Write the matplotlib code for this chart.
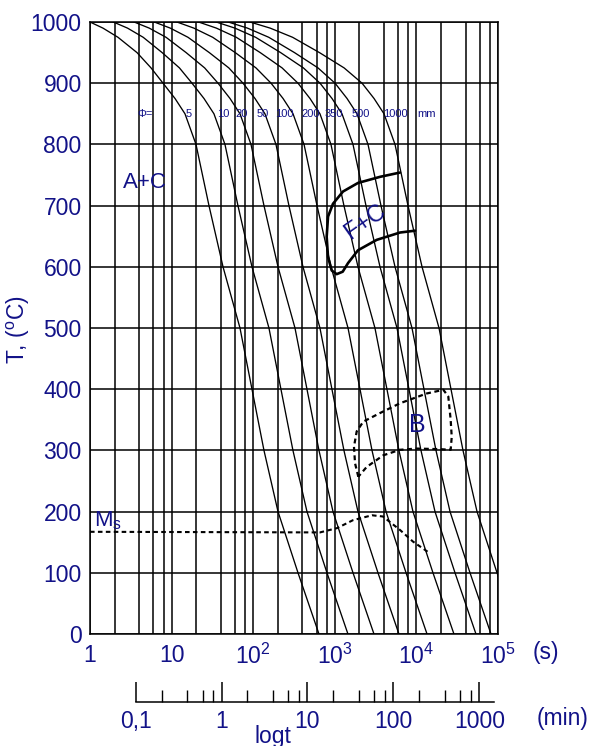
import matplotlib as mpl
import matplotlib.pyplot as plt
import numpy as np
from matplotlib.ticker import FixedLocator, NullFormatter

mpl.rcParams['font.family'] = ['Liberation Sans', 'DejaVu Sans']
mpl.rcParams['mathtext.fontset'] = 'custom'
mpl.rcParams['mathtext.rm'] = 'Liberation Sans'
mpl.rcParams['mathtext.it'] = 'Liberation Sans'

NAVY = '#121288'

# cooling curves: log10(t / s) at each temperature level, one list per bar diameter
T_levels = [1000, 990, 975, 950, 925, 900, 875, 850, 800, 700, 600, 500, 400, 300, 200, 100, 0]
lg_5 = [0, 0.159, 0.343, 0.576, 0.748, 0.895, 1.042, 1.164, 1.299, 1.458, 1.630, 1.838, 1.985, 2.132, 2.304, 2.549, 2.806]
lg_10 = [0.286, 0.460, 0.652, 0.884, 1.096, 1.250, 1.397, 1.519, 1.654, 1.813, 1.985, 2.193, 2.340, 2.487, 2.659, 2.904, 3.161]
lg_20 = [0.541, 0.726, 0.932, 1.178, 1.405, 1.569, 1.716, 1.838, 1.973, 2.132, 2.304, 2.512, 2.659, 2.806, 2.978, 3.223, 3.480]
lg_50 = [0.788, 0.984, 1.201, 1.462, 1.701, 1.875, 2.022, 2.144, 2.279, 2.438, 2.610, 2.818, 2.965, 3.112, 3.284, 3.529, 3.786]
lg_100 = [1.065, 1.273, 1.504, 1.780, 2.034, 2.219, 2.366, 2.488, 2.623, 2.782, 2.954, 3.162, 3.309, 3.456, 3.628, 3.873, 4.130]
lg_200 = [1.330, 1.549, 1.793, 2.086, 2.354, 2.549, 2.696, 2.818, 2.953, 3.112, 3.284, 3.492, 3.639, 3.786, 3.958, 4.203, 4.460]
lg_350 = [1.547, 1.776, 2.030, 2.336, 2.615, 2.819, 2.966, 3.088, 3.223, 3.382, 3.554, 3.762, 3.909, 4.056, 4.228, 4.473, 4.730]
lg_500 = [1.694, 1.930, 2.191, 2.506, 2.794, 3.003, 3.150, 3.272, 3.407, 3.566, 3.738, 3.946, 4.093, 4.240, 4.412, 4.657, 4.914]
lg_1000 = [1.961, 2.208, 2.483, 2.812, 3.114, 3.334, 3.481, 3.603, 3.738, 3.897, 4.069, 4.277, 4.424, 4.571, 4.743, 4.988, 5.245]
cooling = [lg_5, lg_10, lg_20, lg_50, lg_100, lg_200, lg_350, lg_500, lg_1000]

phi_labels = ['Φ=', '5', '10', '20', '50', '100', '200', '350', '500', '1000', 'mm']
phi_t = [4.72, 16.0, 43, 72.3, 131, 238, 511, 959, 2095, 5470, 13370]

# ferrite + carbide field
fc_t = [6295, 3583, 1923, 1260, 950, 826, 795, 826, 916, 1055, 1250, 1452, 1923, 3260, 6295, 9610]
fc_T = [754, 747, 737, 723, 703, 682, 649, 616, 594, 588, 592, 606, 627, 644, 656, 659]

# bainite field
b_t = [1941, 1770, 1718, 1855, 2233, 3580, 6295, 13370, 21400, 24600, 26300, 27100,
       26300, 19450, 10090, 6295, 3930, 2460, 1941]
b_T = [257, 279, 306, 331, 347, 361, 377, 393, 399, 388, 350, 322,
       301, 302, 303, 301, 292, 273, 257]

# martensite start
ms_t = [1, 659, 1064, 1671, 2858, 3890, 6295, 9080, 13870]
ms_T = [167, 166, 173, 186, 194, 192, 170, 151, 134]

sec_ticks = [1, 10, 100, 1000, 10000, 100000]
sec_labels = ['1', '10', '$10^2$', '$10^3$', '$10^4$', '$10^5$']
min_ticks = [0.1, 1, 10, 100, 1000]
min_labels = ['0,1', '1', '10', '100', '1000']

fig = plt.figure(figsize=(5.94, 7.46), dpi=100)
ax = fig.add_axes([90 / 594, 1 - 634 / 746, 408 / 594, 612 / 746])
ax.set_xscale('log')
ax.set_xlim(1, 1e5)
ax.set_ylim(0, 1000)

grid_x = [k * 10.0 ** n for n in range(5) for k in (2, 4, 6, 8)]
ax.xaxis.set_major_locator(FixedLocator(sec_ticks))
ax.xaxis.set_minor_locator(FixedLocator(grid_x))
ax.xaxis.set_minor_formatter(NullFormatter())
ax.set_xticklabels(sec_labels)
ax.set_yticks(range(0, 1001, 100))
ax.grid(True, which='both', color='black', lw=1.1)
ax.tick_params(which='both', length=0, labelsize=16.5, labelcolor=NAVY)
ax.tick_params(axis='x', pad=7)
ax.tick_params(axis='y', pad=6)
for s in ax.spines.values():
    s.set_linewidth(1.1)

for lg in cooling:
    ax.plot(10 ** np.array(lg), T_levels, color='black', lw=0.95)

for lab, t in zip(phi_labels, phi_t):
    ax.text(t, 850, lab, fontsize=8, color=NAVY, ha='center', va='center')

ax.plot(fc_t, fc_T, color='black', lw=1.9, solid_capstyle='round')
ax.plot(b_t, b_T, color='black', lw=1.6, ls=(0, (2.2, 1.6)))
ax.plot(ms_t, ms_T, color='black', lw=1.5, ls=(0, (2.2, 1.6)))

ax.text(4.72, 737, 'A+C', fontsize=16, color=NAVY, ha='center', va='center')
ax.text(2345, 673, 'F+C', fontsize=17, color=NAVY, ha='center', va='center', rotation=35)
ax.text(10170, 341, 'B', fontsize=18, color=NAVY, ha='center', va='center')
ax.text(1.12, 185, 'M$_\\mathregular{s}$', fontsize=16, color=NAVY, ha='left', va='center')

ax.set_ylabel('T, ($^\\mathregular{o}$C)', fontsize=16.5, color=NAVY)
ax.yaxis.set_label_coords(-0.142, 0.497)
fig.text(546 / 594, 1 - 652 / 746, '(s)', fontsize=16.5, color=NAVY, ha='center', va='center')

# time scale in minutes
ax2 = fig.add_axes([135.7 / 594, 1 - 701.7 / 746, (494 - 135.7) / 594, 0.03])
ax2.set_xscale('log')
ax2.set_xlim(0.1, 1483)
ax2.set_ylim(0, 1)
for name in ('top', 'left', 'right'):
    ax2.spines[name].set_visible(False)
ax2.spines['bottom'].set_linewidth(1.1)
ax2.set_yticks([])
ax2.xaxis.set_major_locator(FixedLocator(min_ticks))
ax2.xaxis.set_minor_locator(FixedLocator([k * 10.0 ** n for n in range(-1, 3) for k in (2, 4, 6, 8)]))
ax2.xaxis.set_minor_formatter(NullFormatter())
ax2.set_xticklabels(min_labels)
ax2.tick_params(which='major', direction='in', length=14.5, width=1.1, labelsize=16.5,
                labelcolor=NAVY, pad=6)
ax2.tick_params(which='minor', direction='in', length=8.5, width=1.0)
ax2.patch.set_visible(False)
fig.text(273 / 594, 1 - 736 / 746, 'logt', fontsize=16.5, color=NAVY, ha='center', va='center')
fig.text(563 / 594, 1 - 718 / 746, '(min)', fontsize=16.5, color=NAVY, ha='center', va='center')

fig.savefig('out.png', dpi=100)
